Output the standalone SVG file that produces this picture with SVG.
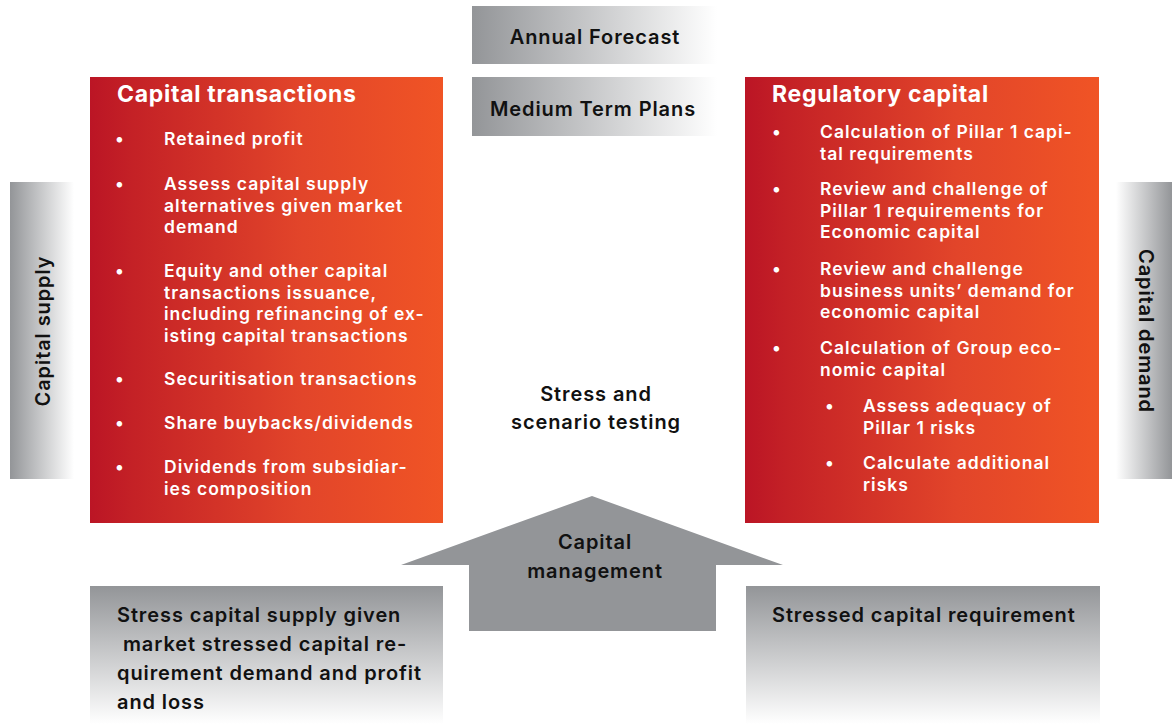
<svg xmlns="http://www.w3.org/2000/svg" width="1172" height="724" viewBox="0 0 1172 724">
<defs>
<linearGradient id="red" x1="0" y1="0" x2="1" y2="0">
<stop offset="0" stop-color="#bb1525"/>
<stop offset="0.12" stop-color="#c42126"/>
<stop offset="0.6" stop-color="#e2452a"/>
<stop offset="1" stop-color="#f05425"/>
</linearGradient>
<linearGradient id="grayR" x1="0" y1="0" x2="1" y2="0">
<stop offset="0" stop-color="#939598"/>
<stop offset="1" stop-color="#ffffff"/>
</linearGradient>
<linearGradient id="grayL" x1="1" y1="0" x2="0" y2="0">
<stop offset="0" stop-color="#939598"/>
<stop offset="1" stop-color="#ffffff"/>
</linearGradient>
<linearGradient id="grayD" x1="0" y1="0" x2="0" y2="1">
<stop offset="0" stop-color="#939598"/>
<stop offset="1" stop-color="#ffffff"/>
</linearGradient>
<style>
text{font-family:Inter,"Open Sans","Liberation Sans",sans-serif;font-weight:600}
.w{fill:#ffffff;font-size:17.5px;letter-spacing:1px}
.h{fill:#ffffff;font-size:23px;font-weight:700;letter-spacing:0.7px}
.k{fill:#111111;font-size:20px;letter-spacing:0.9px}
.c{text-anchor:middle}
</style>
</defs>
<rect width="1172" height="724" fill="#ffffff"/>

<g id="annual-forecast">
<rect x="472" y="6" width="245" height="58" fill="url(#grayR)"/>
<text class="k c" x="595" y="44">Annual Forecast</text>
</g>
<g id="medium-term-plans">
<rect x="472" y="77" width="245" height="59" fill="url(#grayR)"/>
<text class="k c" x="593" y="116">Medium Term Plans</text>
</g>

<g id="capital-supply">
<rect x="10" y="182" width="64" height="297" fill="url(#grayR)"/>
<text class="k c" transform="translate(50,331) rotate(-90)">Capital supply</text>
</g>
<g id="capital-demand">
<rect x="1116" y="182" width="56" height="297" fill="url(#grayL)"/>
<text class="k c" transform="translate(1139,331) rotate(90)">Capital demand</text>
</g>

<g id="capital-transactions">
<rect x="90" y="77" width="353" height="446" fill="url(#red)"/>
<text class="h" x="117" y="102">Capital transactions</text>
<g class="w">
<text x="115" y="145">•</text><text x="164" y="145">Retained profit</text>
<text x="115" y="190">•</text><text x="164" y="190">Assess capital supply</text>
<text x="164" y="211.5">alternatives given market</text>
<text x="164" y="233">demand</text>
<text x="115" y="277">•</text><text x="164" y="277">Equity and other capital</text>
<text x="164" y="298.5">transactions issuance,</text>
<text x="164" y="320">including refinancing of ex-</text>
<text x="164" y="341.5">isting capital transactions</text>
<text x="115" y="385">•</text><text x="164" y="385">Securitisation transactions</text>
<text x="115" y="429">•</text><text x="164" y="429">Share buybacks/dividends</text>
<text x="115" y="473">•</text><text x="164" y="473">Dividends from subsidiar-</text>
<text x="164" y="494.5">ies composition</text>
</g>
</g>

<g id="regulatory-capital">
<rect x="745" y="77" width="354" height="446" fill="url(#red)"/>
<text class="h" x="772" y="102">Regulatory capital</text>
<g class="w">
<text x="772" y="138">•</text><text x="820" y="138">Calculation of Pillar 1 capi-</text>
<text x="820" y="159.5">tal requirements</text>
<text x="772" y="195">•</text><text x="820" y="195">Review and challenge of</text>
<text x="820" y="216.5">Pillar 1 requirements for</text>
<text x="820" y="238">Economic capital</text>
<text x="772" y="275">•</text><text x="820" y="275">Review and challenge</text>
<text x="820" y="296.5">business units’ demand for</text>
<text x="820" y="318">economic capital</text>
<text x="772" y="354">•</text><text x="820" y="354">Calculation of Group eco-</text>
<text x="820" y="375.5">nomic capital</text>
<text x="825" y="412">•</text><text x="863" y="412">Assess adequacy of</text>
<text x="863" y="433.5">Pillar 1 risks</text>
<text x="825" y="469">•</text><text x="863" y="469">Calculate additional</text>
<text x="863" y="490.5">risks</text>
</g>
</g>

<g id="stress-testing">
<text class="k c" x="596" y="401">Stress and</text>
<text class="k c" x="596" y="429">scenario testing</text>
</g>

<g id="capital-management">
<polygon points="592,496 783,565 716,565 716,631 469,631 469,565 401,565" fill="#939598"/>
<text class="k c" x="595" y="549">Capital</text>
<text class="k c" x="595" y="578">management</text>
</g>

<g id="stress-capital-supply">
<rect x="90" y="586" width="353" height="138" fill="url(#grayD)"/>
<text class="k" x="117" y="622">Stress capital supply given</text>
<text class="k" x="117" y="651" xml:space="preserve"> market stressed capital re-</text>
<text class="k" x="117" y="680">quirement demand and profit</text>
<text class="k" x="117" y="709">and loss</text>
</g>
<g id="stressed-capital-requirement">
<rect x="746" y="586" width="354" height="138" fill="url(#grayD)"/>
<text class="k" x="772" y="622">Stressed capital requirement</text>
</g>

<g id="connectors"></g>
</svg>
